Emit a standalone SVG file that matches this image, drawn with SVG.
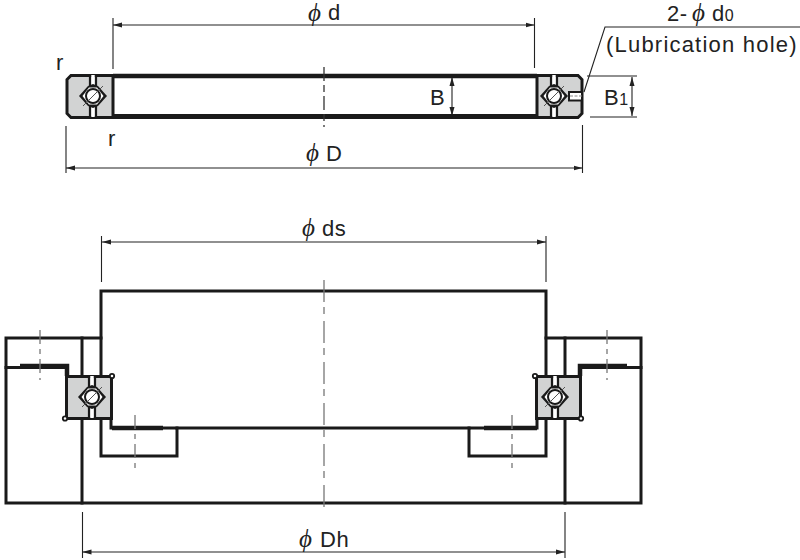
<svg xmlns="http://www.w3.org/2000/svg" xmlns:xlink="http://www.w3.org/1999/xlink" width="800" height="560" viewBox="0 0 800 560">
<style>
.t{font-family:"Liberation Sans",Arial,sans-serif;font-size:22px;letter-spacing:.5px;fill:#222}
.p{font-family:"Liberation Serif","DejaVu Serif",serif;font-style:italic;font-size:25px;fill:#222}
.s{font-size:16px}
.d{fill:none;stroke:#222;stroke-width:1.1}
.a{fill:none;stroke:#222;stroke-width:1.1;marker-start:url(#as);marker-end:url(#ae)}
.l{fill:none;stroke:#1a1a1a;stroke-width:3;stroke-linecap:square}
.h{fill:none;stroke:#1a1a1a;stroke-width:4.500}
.c{fill:none;stroke:#777;stroke-width:1.300}
.k{fill:none;stroke:#333;stroke-width:1.300}
.g{fill:#d2d3d3;stroke:#1a1a1a;stroke-width:3}
</style>
<defs>
<marker id="ae" markerWidth="10" markerHeight="6" refX="9" refY="3" orient="auto" markerUnits="userSpaceOnUse"><path d="M0 0.5L9 3L0 5.5Z" fill="#222"/></marker>
<marker id="as" markerWidth="10" markerHeight="6" refX="0" refY="3" orient="auto" markerUnits="userSpaceOnUse"><path d="M9 0.5L0 3L9 5.5Z" fill="#222"/></marker>
<g id="rolling">
<path d="M-1.800 -21H1.800V21H-1.800Z" fill="#fff"/>
<path d="M-3 -21V-9M3 -21V-9M-3 9V21M3 9V21" stroke="#1a1a1a" stroke-width="2.200" fill="none"/>
<path d="M-14 0L-5 -10L0 -12L5 -10L14 0L5 10L0 12L-5 10Z" fill="#1a1a1a"/>
<path d="M-10.500 0L-4 -8.500H4L10.500 0L4 8.500H-4Z" fill="#fff"/>
<circle r="7" fill="#fff" stroke="#1a1a1a" stroke-width="2"/>
<path d="M-10 10L10 -10" stroke="#555" stroke-width="1" fill="none"/>
</g>
</defs>
<rect width="800" height="560" fill="#fff"/>
<g id="connectors">
<path class="a" d="M113 25H534.500"/>
<path class="d" d="M113 18V69M534.500 18V68"/>
<path class="a" d="M66 168H582.500"/>
<path class="d" d="M66 126V173M582.500 125V173"/>
<path class="a" d="M452 77V116"/>
<path class="a" d="M632 77V116"/>
<path class="d" d="M587 76H637M590 117H637"/>
<path class="d" d="M800 27H605L584 92"/>
<path class="a" d="M102 242H546"/>
<path class="d" d="M101.500 236V282M546 236V282"/>
<path class="a" d="M82.500 552H565"/>
<path class="d" d="M82.500 512V558M565 512V558"/>
</g>
<g id="bearing-top">
<path d="M113 76H537" stroke="#1a1a1a" stroke-width="4.500" fill="none"/>
<path d="M113 116.500H537" stroke="#1a1a1a" stroke-width="5" fill="none"/>
<path class="g" d="M71 75.500H113V117.500H71L67 113.500V79.500Z"/>
<path class="g" d="M537 75.500H578L582 79.500V113.500L578 117.500H537Z"/>
<use href="#rolling" xlink:href="#rolling" x="93" y="96"/>
<use href="#rolling" xlink:href="#rolling" x="554" y="96"/>
<rect x="569" y="92" width="13" height="8.500" fill="#fff" stroke="#1a1a1a" stroke-width="2"/>
<path d="M570 96H582" stroke="#888" stroke-width="1" stroke-dasharray="3 1.500"/>
<path class="k" d="M324 67V127" stroke-dasharray="14 4 7 4"/>
</g>
<g id="shaft">
<path class="l" d="M101 376V291H546V376"/>
<path class="l" d="M111 418V428H177V456H101V418"/>
<path class="l" d="M537 418V428H469V456H546V418"/>
<path class="l" d="M177 428H469"/>
<path class="h" d="M112 428H163M484 428H537"/>
</g>
<g id="housing">
<path class="l" d="M101 338H6V503H641V338H546"/>
<path class="l" d="M6 367.500H66M580 367.500H641"/>
<path class="h" d="M20 366H67V376M627 366H580V376"/>
<path class="l" d="M82 338V376M82 418V503M565 338V376M565 418V503"/>
</g>
<g id="bearing-bottom">
<rect class="g" x="66.500" y="376.500" width="45" height="42"/>
<rect class="g" x="536.500" y="376.500" width="44" height="42"/>
<use href="#rolling" xlink:href="#rolling" x="92" y="397"/>
<use href="#rolling" xlink:href="#rolling" x="555" y="397"/>
<g fill="#fff" stroke="#1a1a1a" stroke-width="1.800">
<circle cx="65" cy="418.500" r="2.200"/><circle cx="112" cy="376" r="2.200"/>
<circle cx="535" cy="376" r="2.200"/><circle cx="581" cy="418.500" r="2.200"/>
</g>
</g>
<g id="centerlines">
<path class="c" stroke-dasharray="14 5 5 5" d="M40 330V380M607 330V380M135 415V470M512 415V470"/>
<path class="c" d="M324 280V511" stroke-dasharray="22 5 7 7"/>
</g>
<g id="labels">
<text class="p" x="308" y="21">ϕ</text><text class="t" x="328" y="20">d</text>
<text class="p" x="306" y="161">ϕ</text><text class="t" x="326" y="161">D</text>
<text class="p" x="302" y="236">ϕ</text><text class="t" x="322" y="236">ds</text>
<text class="p" x="299" y="547">ϕ</text><text class="t" x="320" y="547">Dh</text>
<text class="t" x="667" y="21">2-</text><text class="p" x="692" y="21">ϕ</text><text class="t" x="712" y="21">d<tspan class="s">0</tspan></text>
<text class="t" x="606" y="52" textLength="191" lengthAdjust="spacing">(Lubrication hole)</text>
<text class="t" x="430" y="105">B</text>
<text class="t" x="604" y="105">B<tspan class="s">1</tspan></text>
<text class="t" x="56" y="70">r</text>
<text class="t" x="108" y="146">r</text>
</g>
</svg>
